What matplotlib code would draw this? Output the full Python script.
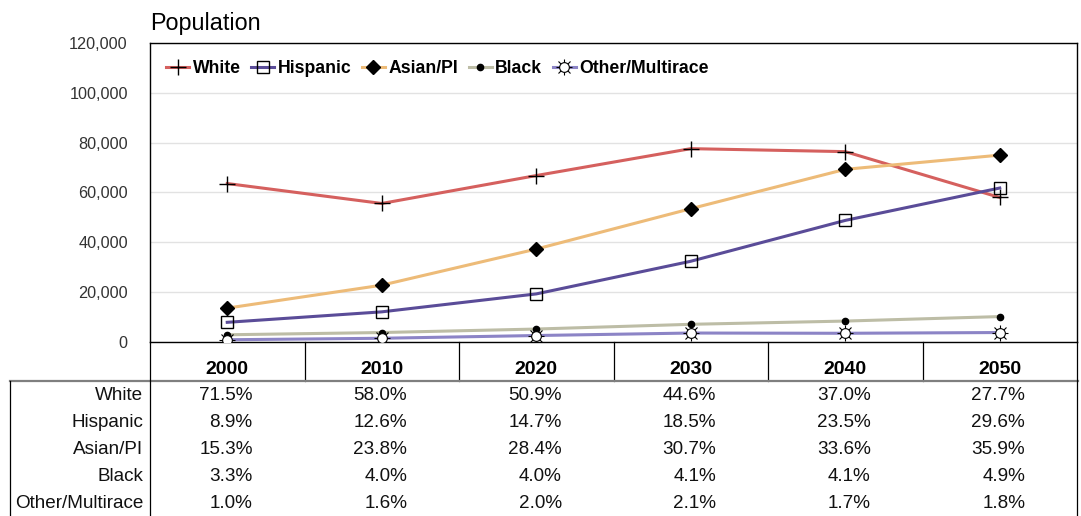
import matplotlib
matplotlib.use("Agg")
import matplotlib.pyplot as plt
from matplotlib import font_manager
from matplotlib.lines import Line2D
from matplotlib.legend_handler import HandlerTuple
from matplotlib.transforms import blended_transform_factory

# Population by group
years = ["2000", "2010", "2020", "2030", "2040", "2050"]
groups = ["White", "Hispanic", "Asian/PI", "Black", "Other/Multirace"]
white = [63600, 55600, 66800, 77600, 76400, 58000]
hispanic = [7900, 12100, 19300, 32400, 48800, 61800]
asian = [13600, 22800, 37300, 53500, 69300, 75000]
black = [2900, 3800, 5200, 7100, 8400, 10200]
other = [900, 1500, 2600, 3600, 3500, 3800]

# Share table under the chart
share_white = ["71.5%", "58.0%", "50.9%", "44.6%", "37.0%", "27.7%"]
share_hispanic = ["8.9%", "12.6%", "14.7%", "18.5%", "23.5%", "29.6%"]
share_asian = ["15.3%", "23.8%", "28.4%", "30.7%", "33.6%", "35.9%"]
share_black = ["3.3%", "4.0%", "4.0%", "4.1%", "4.1%", "4.9%"]
share_other = ["1.0%", "1.6%", "2.0%", "2.1%", "1.7%", "1.8%"]

y_ticks = [0, 20000, 40000, 60000, 80000, 100000, 120000]

installed = {f.name for f in font_manager.fontManager.ttflist}
narrow = "Liberation Sans Narrow" if "Liberation Sans Narrow" in installed else "Liberation Sans"
plt.rcParams["font.family"] = ["Liberation Sans", "DejaVu Sans"]

fig = plt.figure(figsize=(10.81, 5.16), dpi=100)
ax = fig.add_axes([150 / 1081, 174 / 516, 927 / 1081, 299 / 516])

x = list(range(len(years)))
lw = 2.2

# lines
ax.plot(x, white, color="#D5605E", lw=lw, marker="+", ms=11, mec="black", mew=1.0, zorder=3)
ax.plot(x, hispanic, color="#5A4C98", lw=lw, marker="s", ms=8.5, mfc="none", mec="black", mew=1.0, zorder=3)
ax.plot(x, asian, color="#EDBB78", lw=lw, marker="D", ms=7.5, mfc="black", mec="black", zorder=3)
ax.plot(x, black, color="#BDBDA6", lw=lw, marker="o", ms=4.5, mfc="black", mec="black", zorder=3)
ax.plot(x, other, color="#8C84C6", lw=lw, zorder=3)
# sun-like marker for Other/Multirace
ax.plot(x, other, ls="none", marker="+", ms=12, mec="black", mew=0.8, zorder=4)
ax.plot(x, other, ls="none", marker="x", ms=9, mec="black", mew=0.8, zorder=4)
ax.plot(x, other, ls="none", marker="o", ms=7, mfc="white", mec="black", mew=0.8, zorder=5)

ax.set_xlim(-0.5, len(years) - 0.5)
ax.set_ylim(0, 120000)
ax.set_yticks(y_ticks)
ax.set_yticklabels([f"{v:,}" for v in y_ticks], fontsize=11.7, color="#333333")
ax.tick_params(axis="y", length=0, pad=16)
ax.set_xticks([])
ax.grid(axis="y", color="#E2E2E2", lw=1)
ax.set_axisbelow(True)
for s in ax.spines.values():
    s.set_color("black")
    s.set_linewidth(1.0)

ax.set_title("Population", loc="left", fontsize=16.8, pad=9)

# legend
h_white = Line2D([], [], color="#D5605E", lw=lw, marker="+", ms=11, mec="black", mew=1.0)
h_hisp = Line2D([], [], color="#5A4C98", lw=lw, marker="s", ms=8.5, mfc="none", mec="black", mew=1.0)
h_asian = Line2D([], [], color="#EDBB78", lw=lw, marker="D", ms=7.5, mfc="black", mec="black")
h_black = Line2D([], [], color="#BDBDA6", lw=lw, marker="o", ms=4.5, mfc="black", mec="black")
h_other = (
    Line2D([], [], color="#8C84C6", lw=lw),
    Line2D([], [], ls="none", marker="+", ms=12, mec="black", mew=0.8),
    Line2D([], [], ls="none", marker="x", ms=9, mec="black", mew=0.8),
    Line2D([], [], ls="none", marker="o", ms=7, mfc="white", mec="black", mew=0.8),
)
ax.legend([h_white, h_hisp, h_asian, h_black, h_other], groups,
          handler_map={tuple: HandlerTuple(ndivide=1, pad=0)},
          loc="upper left", bbox_to_anchor=(0.004, 0.985), ncol=5, frameon=False,
          prop={"weight": "bold", "size": 12.7}, handlelength=1.3, handletextpad=0.2,
          columnspacing=0.6, borderaxespad=0.3)

# data table under the chart
tx = blended_transform_factory(ax.transData, ax.transAxes)
px = 1 / 299  # one pixel in axes fraction (vertical)
pxh = 1 / 927  # one pixel in axes fraction (horizontal)

header_y = -27 * px
for i, yr in enumerate(years):
    ax.text(i, header_y, yr, transform=tx, ha="center", va="center",
            fontsize=14, fontweight="bold", family=narrow)

# header cell borders
for b in range(1, len(years)):
    ax.plot([b - 0.5, b - 0.5], [0, -39 * px], transform=tx, color="black", lw=0.9, clip_on=False)

rows = [share_white, share_hispanic, share_asian, share_black, share_other]
for r, (name, vals) in enumerate(zip(groups, rows)):
    yy = -(53 + 27.2 * r) * px
    ax.text(-7 * pxh, yy, name, transform=ax.transAxes, ha="right", va="center",
            fontsize=13.6, color="#111111")
    for i, v in enumerate(vals):
        ax.text(i + 0.165, yy, v, transform=tx, ha="right", va="center",
                fontsize=13.6, color="#111111")

# outer table lines
ax.plot([-140 * pxh, 1 + pxh], [-39 * px, -39 * px], transform=ax.transAxes,
        color="#7F7F7F", lw=1.6, clip_on=False)
ax.plot([-140 * pxh, -140 * pxh], [-39 * px, -180 * px], transform=ax.transAxes,
        color="black", lw=0.9, clip_on=False)
ax.plot([0, 0], [0, -180 * px], transform=ax.transAxes, color="black", lw=0.9, clip_on=False)
ax.plot([1, 1], [0, -180 * px], transform=ax.transAxes, color="black", lw=0.9, clip_on=False)

fig.savefig("out.png", dpi=100)
